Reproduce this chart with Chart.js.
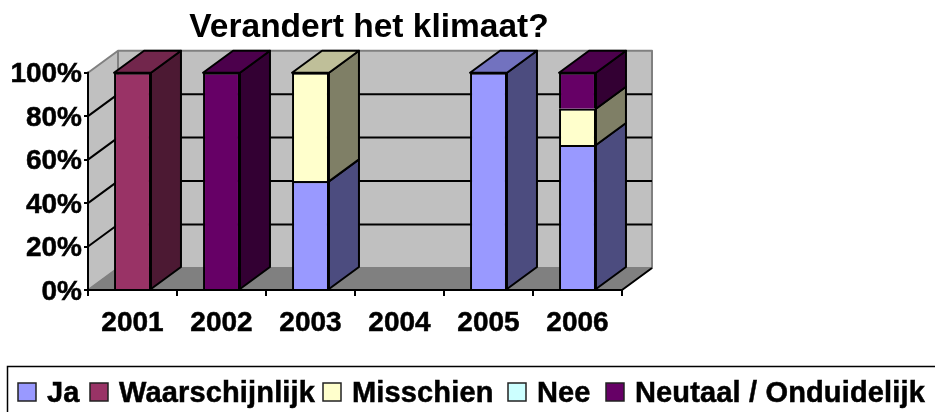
<!DOCTYPE html>
<html>
<head>
<meta charset="utf-8">
<title>Verandert het klimaat?</title>
<style>
  html,body{ margin:0; padding:0; background:#fff; overflow:hidden; }
  canvas{ display:block; }
</style>
<script src="https://cdn.jsdelivr.net/npm/chart.js@4"></script>
</head>
<body>
<canvas id="c" width="935" height="412"></canvas>
<script>
// data, percent per year
const years = ['2001','2002','2003','2004','2005','2006'];
const seriesNames = ['Ja','Waarschijnlijk','Misschien','Nee','Neutaal / Onduidelijk'];
const ja            = [0, 0, 50, 0, 100, 66.7];
const waarschijnlijk = [100, 0, 0, 0, 0, 0];
const misschien     = [0, 0, 50, 0, 0, 16.7];
const nee           = [0, 0, 0, 0, 0, 0];
const neutraal      = [0, 100, 0, 0, 0, 16.6];
const seriesValues = [ja, waarschijnlijk, misschien, nee, neutraal];
const seriesColors = ['#9999FF','#993366','#FFFFCC','#CCFFFF','#660066'];
const yTicks = [0, 20, 40, 60, 80, 100];
const legendX = [18, 90, 323, 508, 606];

const FONT = '"Liberation Sans", Arial, sans-serif';
const DX = 30, DY = 22; // 3d depth of the box

const shade = (hex, f)=>{
  const n = parseInt(hex.slice(1), 16);
  return `rgb(${(n>>16)*f|0},${((n>>8)&255)*f|0},${(n&255)*f|0})`;
};
const poly = (ctx, pts, fill, stroke, lw)=>{
  ctx.beginPath();
  pts.forEach((p,i)=> i ? ctx.lineTo(p[0],p[1]) : ctx.moveTo(p[0],p[1]));
  ctx.closePath();
  if(fill){ ctx.fillStyle = fill; ctx.fill(); }
  if(stroke){ ctx.strokeStyle = stroke; ctx.lineWidth = lw; ctx.lineJoin = 'round'; ctx.stroke(); }
};

// walls, floor and back gridlines, behind everything
const box3d = {
  id:'box3d',
  beforeDraw(chart){
    const {ctx, chartArea:{left:l, right:r, top:t, bottom:b}, scales:{y}} = chart;
    ctx.save();
    poly(ctx, [[l,t],[l+DX,t-DY],[r+DX,t-DY],[r+DX,b-DY],[l+DX,b-DY],[l,b]], '#C0C0C0', '#808080', 2);
    ctx.strokeStyle = '#808080'; ctx.lineWidth = 2;
    ctx.beginPath(); ctx.moveTo(l+DX,t-DY); ctx.lineTo(l+DX,b-DY); ctx.stroke();
    poly(ctx, [[l,b],[l+DX,b-DY],[r+DX,b-DY],[r,b]], '#808080', '#808080', 1);
    ctx.strokeStyle = '#000'; ctx.lineWidth = 2;
    ctx.beginPath();
    ctx.moveTo(r,b); ctx.lineTo(r+DX,b-DY);
    yTicks.slice(1,-1).forEach(v=>{
      const py = y.getPixelForValue(v);
      ctx.moveTo(l,py); ctx.lineTo(l+DX,py-DY); ctx.lineTo(r+DX,py-DY);
    });
    ctx.stroke();
    ctx.restore();
  },
  afterLayout(chart){
    // title sits centred over the whole box including the depth, not the plot
    chart.titleBlock.left = 0;
    chart.titleBlock.right = 738;
  },
  // side and top faces of every bar segment
  beforeDatasetsDraw(chart){
    const {ctx, chartArea:{left:l, top:t, bottom:b}} = chart;
    ctx.save();
    // front edge of the left wall
    ctx.strokeStyle = '#000'; ctx.lineWidth = 2;
    ctx.beginPath(); ctx.moveTo(l,t-1); ctx.lineTo(l,b); ctx.stroke();
    years.forEach((_,j)=>{
      let last = -1;
      seriesValues.forEach((vals,i)=>{ if(vals[j] > 0) last = i; });
      seriesValues.forEach((vals,i)=>{
        if(!(vals[j] > 0)) return;
        const bar = chart.getDatasetMeta(i).data[j];
        const x0 = bar.x - bar.width/2, x1 = bar.x + bar.width/2;
        const col = seriesColors[i];
        poly(ctx, [[x1,bar.y],[x1+DX,bar.y-DY],[x1+DX,bar.base-DY],[x1,bar.base]], shade(col,.5), '#000', 2);
        if(i === last)
          poly(ctx, [[x0,bar.y],[x0+DX,bar.y-DY],[x1+DX,bar.y-DY],[x1,bar.y]], shade(col,.75), '#000', 2);
      });
    });
    ctx.restore();
  },
  // legend strip, open towards the page edge like the source
  afterDraw(chart){
    const {ctx} = chart;
    ctx.save();
    ctx.strokeStyle = '#000'; ctx.lineWidth = 1.5;
    ctx.strokeRect(7.5, 366.5, 1000, 100);
    ctx.font = 'bold 29px ' + FONT;
    ctx.letterSpacing = '0.15px';
    ctx.textBaseline = 'middle';
    seriesNames.forEach((name,i)=>{
      const x = legendX[i];
      ctx.fillStyle = seriesColors[i];
      ctx.fillRect(x, 383, 18, 18);
      ctx.strokeStyle = '#222'; ctx.lineWidth = 1.5;
      ctx.strokeRect(x, 383, 18, 18);
      ctx.fillStyle = '#000';
      ctx.strokeStyle = '#000'; ctx.lineWidth = .5;
      ctx.fillText(name, x+29, 394);
      ctx.strokeText(name, x+29, 394);
    });
    ctx.restore();
  }
};

new Chart(document.getElementById('c'),{
  type:'bar',
  data:{
    labels:years,
    datasets:seriesNames.map((label,i)=>({
      label, data:seriesValues[i],
      backgroundColor:seriesColors[i],
      borderColor:'#000', borderWidth:2,
      barPercentage:.415, categoryPercentage:1
    }))
  },
  plugins:[box3d],
  options:{
    responsive:false,
    animation:false,
    layout:{ padding:{ right:313 } },
    plugins:{
      legend:{ display:false },
      tooltip:{ enabled:false },
      title:{
        display:true, text:'Verandert het klimaat?', color:'#000',
        font:{ family:FONT, size:33.5, weight:'bold' },
        padding:{ top:8, bottom:24.5 }
      }
    },
    scales:{
      x:{
        stacked:true,
        afterFit(s){ s.height = 122; },
        grid:{ drawOnChartArea:false, color:'#000', lineWidth:2, tickLength:6 },
        border:{ color:'#000', width:2, z:1 },
        ticks:{ color:'#000', font:{ family:FONT, size:28, weight:'bold' }, padding:10, maxRotation:0, textStrokeColor:'#000', textStrokeWidth:.5 }
      },
      y:{
        stacked:true, min:0, max:100,
        afterFit(s){ s.width = 88; },
        afterBuildTicks(s){ s.ticks = yTicks.map(value=>({ value })); },
        grid:{ drawOnChartArea:false, color:'#000', lineWidth:2, tickLength:4 },
        border:{ color:'#000', width:2, z:1 },
        ticks:{ color:'#000', font:{ family:FONT, size:28, weight:'bold' }, padding:2, labelOffset:2, callback:v=>v+'%', textStrokeColor:'#000', textStrokeWidth:.5 }
      }
    }
  }
});
</script>
</body>
</html>
